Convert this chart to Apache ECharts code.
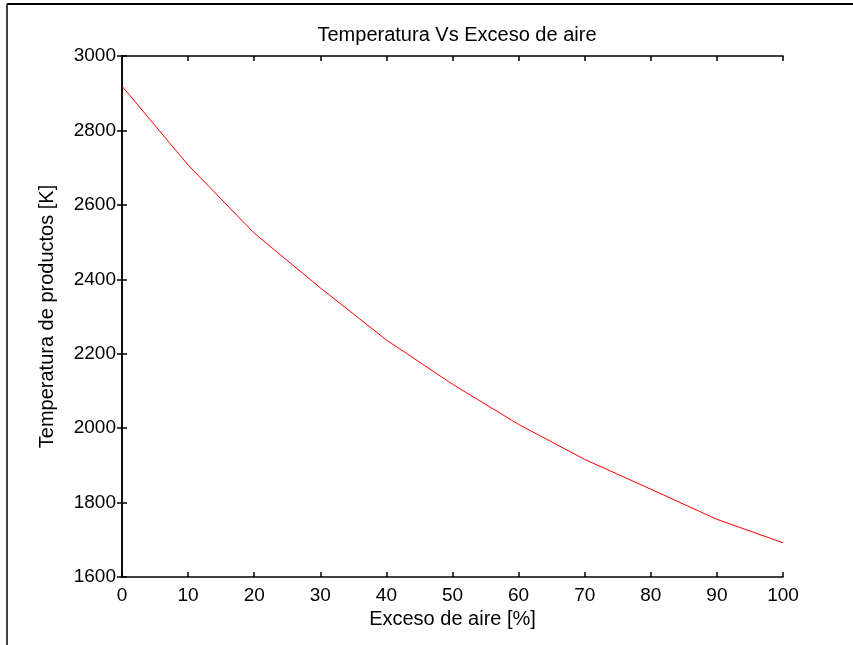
<!DOCTYPE html>
<html>
<head>
<meta charset="utf-8">
<script src="https://cdn.jsdelivr.net/npm/echarts@6/dist/echarts.min.js"></script>
<style>
html,body{margin:0;padding:0;background:#fff;}
#c{width:853px;height:645px;}
</style>
</head>
<body>
<div id="c"></div>
<script>
var exceso = [0, 10, 20, 30, 40, 50, 60, 70, 80, 90, 100];
var temperatura = [2919, 2707, 2524, 2377, 2237, 2118, 2010, 1916, 1836, 1755, 1692];
var titleText = 'Temperatura Vs Exceso de aire';
var xName = 'Exceso de aire [%]';
var yName = 'Temperatura de productos [K]';

var font = 'Liberation Sans, Arial, sans-serif';
var fs = 19;
var fsName = 20;
var chart = echarts.init(document.getElementById('c'), null, {renderer: 'canvas'});
var axisLine = {show: true, lineStyle: {color: '#000', width: 1.5}};
var tick = {show: true, inside: true, length: 5, lineStyle: {color: '#000', width: 1.5}};
chart.setOption({
  backgroundColor: '#fff',
  animation: false,
  title: {
    text: titleText, left: 452, top: 20, textAlign: 'center',
    textStyle: {fontFamily: font, fontSize: fsName, fontWeight: 'normal', color: '#000'}
  },
  grid: {left: 122, right: 70, top: 56, bottom: 68},
  xAxis: [{
    type: 'value', min: 0, max: 100, interval: 10, position: 'bottom',
    axisLine: axisLine, axisTick: tick, splitLine: {show: false},
    axisLabel: {color: '#000', fontFamily: font, fontSize: fs, margin: 9},
    name: xName, nameLocation: 'middle', nameGap: 32,
    nameTextStyle: {color: '#000', fontFamily: font, fontSize: fsName}
  }, {
    type: 'value', min: 0, max: 100, interval: 10, position: 'top',
    axisLine: axisLine, axisTick: tick, splitLine: {show: false},
    axisLabel: {show: false}
  }],
  yAxis: [{
    type: 'value', min: 1600, max: 3000, interval: 200, position: 'left',
    axisLine: axisLine, axisTick: tick, splitLine: {show: false},
    axisLabel: {color: '#000', fontFamily: font, fontSize: fs, margin: 6,
      formatter: function (v) { return String(v); }},
    name: yName, nameLocation: 'middle', nameGap: 65,
    nameTextStyle: {color: '#000', fontFamily: font, fontSize: fsName}
  }, {
    type: 'value', min: 1600, max: 3000, interval: 200, position: 'right',
    axisLine: axisLine, axisTick: tick, splitLine: {show: false},
    axisLabel: {show: false}
  }],
  series: [{
    type: 'line',
    data: exceso.map(function (x, i) { return [x, temperatura[i]]; }),
    showSymbol: false, symbol: 'none',
    lineStyle: {color: '#ff0000', width: 1},
    itemStyle: {color: '#ff0000'}
  }],
  graphic: [
    {type: 'line', shape: {x1: 7, y1: 4, x2: 853, y2: 4}, style: {stroke: '#000', lineWidth: 2}},
    {type: 'line', shape: {x1: 7, y1: 4, x2: 7, y2: 645}, style: {stroke: '#000', lineWidth: 1.5}}
  ]
});
</script>
</body>
</html>
